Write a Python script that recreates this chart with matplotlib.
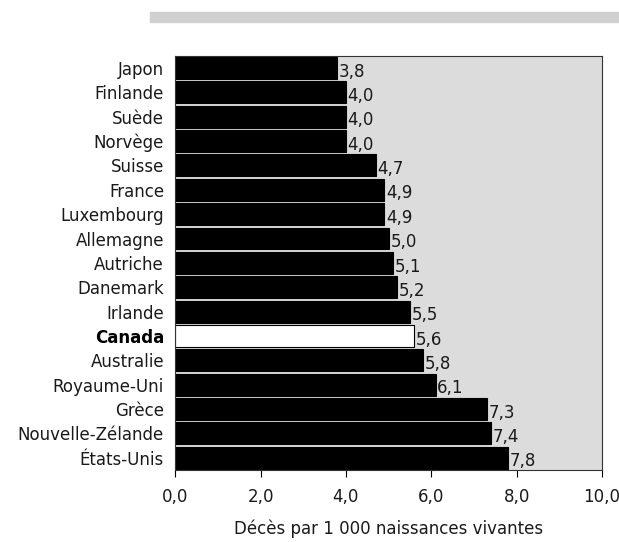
import matplotlib
matplotlib.use("Agg")
import matplotlib.pyplot as plt
from matplotlib.patches import Rectangle

plt.rcParams['font.family'] = ['DejaVu Sans']

pays = ["Japon", "Finlande", "Suède", "Norvège", "Suisse", "France",
        "Luxembourg", "Allemagne", "Autriche", "Danemark", "Irlande",
        "Canada", "Australie", "Royaume-Uni", "Grèce", "Nouvelle-Zélande",
        "États-Unis"]
taux = [3.8, 4.0, 4.0, 4.0, 4.7, 4.9, 4.9, 5.0, 5.1, 5.2, 5.5,
        5.6, 5.8, 6.1, 7.3, 7.4, 7.8]
graduations = [0, 2, 4, 6, 8, 10]

fs = 12
gris_texte = '#1a1a1a'

fig = plt.figure(figsize=(6.19, 5.42), dpi=100)
# bandeau gris en haut
fig.patches.append(Rectangle((0.242, 0.959), 0.758, 0.0185,
                             transform=fig.transFigure, color='#d0d0d0', zorder=0))

ax = fig.add_axes([0.283, 0.133, 0.6895, 0.764])
ax.set_facecolor('#dcdcdc')

y = list(range(len(pays)))
couleurs = ['white' if p == "Canada" else 'black' for p in pays]
ax.barh(y, taux, height=0.9, color=couleurs, edgecolor='black', linewidth=0.8)

for yi, v in zip(y, taux):
    ax.text(v + 0.04, yi + 0.15, f"{v:.1f}".replace('.', ','),
            va='center', ha='left', fontsize=fs, color=gris_texte)

ax.set_ylim(len(pays) - 0.5, -0.5)
ax.set_yticks(y)
ax.set_yticklabels(pays, fontsize=fs, color=gris_texte)
for lab in ax.get_yticklabels():
    if lab.get_text() == "Canada":
        lab.set_fontweight('bold')
        lab.set_color('black')
ax.tick_params(axis='y', length=0, pad=8)

ax.set_xlim(0, 10)
ax.set_xticks(graduations)
ax.set_xticklabels([f"{g:.1f}".replace('.', ',') for g in graduations],
                   fontsize=fs, color=gris_texte)
ax.tick_params(axis='x', direction='out', length=5, width=0.8, pad=8)
ax.set_xlabel("Décès par 1 000 naissances vivantes", fontsize=fs,
              labelpad=10, color=gris_texte)

for s in ax.spines.values():
    s.set_linewidth(0.8)
    s.set_color('#333333')

fig.savefig("out.png", dpi=100)
